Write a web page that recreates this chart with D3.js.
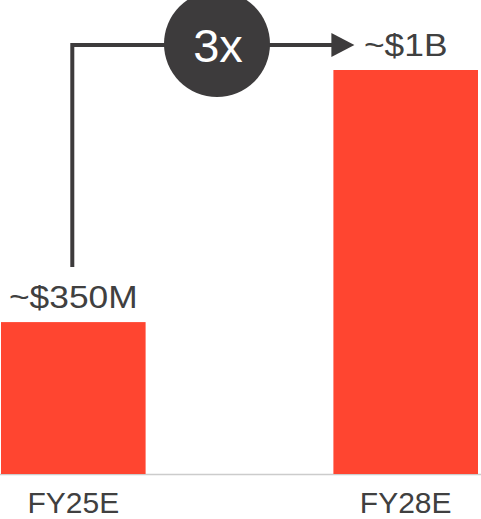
<!DOCTYPE html>
<html>
<head>
<meta charset="utf-8">
<script src="https://cdn.jsdelivr.net/npm/d3@7"></script>
<style>
html,body{margin:0;padding:0;background:#fff;}
svg{display:block;}
text{font-family:"Liberation Sans",Arial,sans-serif;}
</style>
</head>
<body>
<svg id="chart" width="481" height="519"></svg>
<script>
const categories = ["FY25E", "FY28E"];
const values = [0.376, 1.0];            // $B
const valueLabels = ["~$350M", "~$1B"];
const growthLabel = "3x";

const W = 481, H = 519;
const svg = d3.select("#chart");

const x = d3.scaleBand().domain(categories).range([1, 478]).paddingInner(0.565).paddingOuter(0);
const y = d3.scaleLinear().domain([0, 1]).range([474, 70]);

const barColor = "#ff4530";
const textColor = "#404040";
const darkColor = "#3d3b3c";

// baseline
svg.append("line")
  .attr("x1", 0).attr("x2", W)
  .attr("y1", y(0) + 0.5).attr("y2", y(0) + 0.5)
  .attr("stroke", "#cccccc").attr("stroke-width", 1.5);

// bars
svg.selectAll("rect.bar").data(categories).join("rect")
  .attr("class", "bar")
  .attr("x", d => x(d))
  .attr("width", x.bandwidth())
  .attr("y", (d, i) => y(values[i]))
  .attr("height", (d, i) => y(0) - y(values[i]))
  .attr("fill", barColor);

// value labels (glyphs slightly wider in the reference)
const vals = svg.selectAll("text.val").data(categories).join("text")
  .attr("class", "val")
  .attr("x", d => x(d) + x.bandwidth() / 2)
  .attr("y", (d, i) => y(values[i]) - 14)
  .attr("text-anchor", "middle")
  .attr("font-size", 31)
  .attr("fill", textColor)
  .text((d, i) => valueLabels[i]);
vals.each(function () {
  const len = this.getComputedTextLength();
  d3.select(this).attr("textLength", len * 1.14).attr("lengthAdjust", "spacingAndGlyphs");
});

// category labels
const xAxis = d3.axisBottom(x).tickSize(0).tickPadding(0);
const gx = svg.append("g").attr("transform", `translate(0,${y(0)})`).call(xAxis);
gx.select(".domain").remove();
gx.selectAll("text")
  .attr("dy", null)
  .attr("y", 39)
  .attr("font-size", 30)
  .attr("font-family", "Liberation Sans, Arial, sans-serif")
  .attr("fill", textColor);

// growth arrow
const ax0 = x(categories[0]) + x.bandwidth() / 2 - 1;
const ayTop = 45;
const ayBottom = y(values[0]) - 55;
const axEnd = x(categories[1]);
svg.append("path")
  .attr("d", `M${ax0},${ayBottom} L${ax0},${ayTop} L${axEnd},${ayTop}`)
  .attr("fill", "none")
  .attr("stroke", darkColor)
  .attr("stroke-width", 4);
svg.append("path")
  .attr("d", `M${axEnd - 2},${ayTop - 12} L${axEnd + 21},${ayTop} L${axEnd - 2},${ayTop + 12} Z`)
  .attr("fill", darkColor);

// circle badge
const cx = 217, cy = 44;
svg.append("circle").attr("cx", cx).attr("cy", cy).attr("r", 53).attr("fill", darkColor);
svg.append("text")
  .attr("x", cx + 1).attr("y", cy + 18)
  .attr("text-anchor", "middle")
  .attr("font-size", 47)
  .attr("fill", "#ffffff")
  .text(growthLabel);
</script>
</body>
</html>
